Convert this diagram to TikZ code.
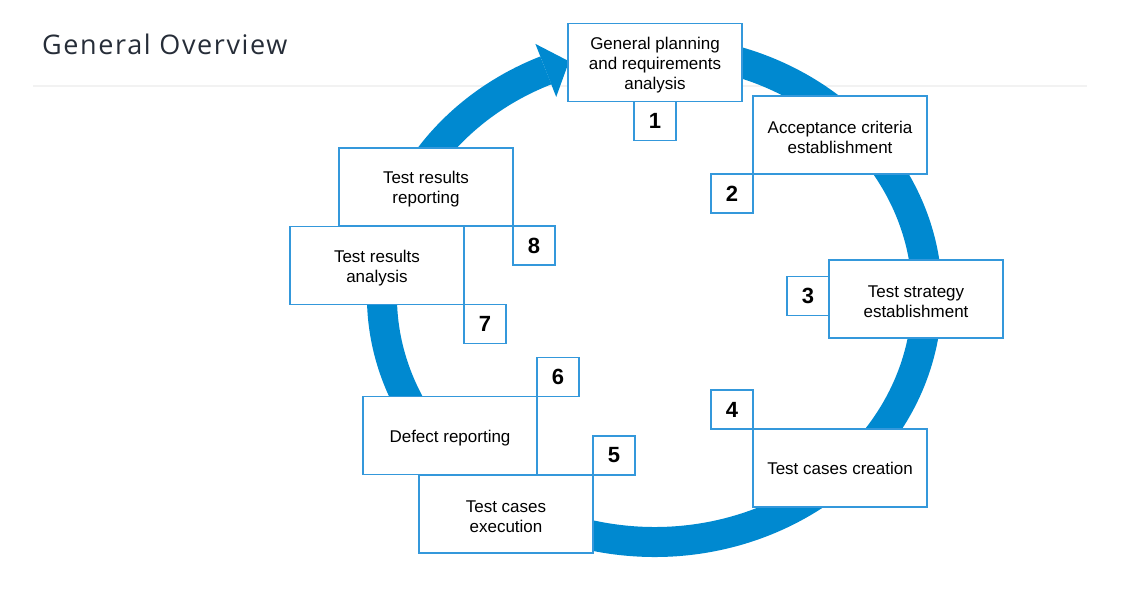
\documentclass[tikz,border=0pt]{standalone}
\usepackage{fontspec}
\setmainfont{Liberation Sans}
\newfontfamily\titlefont{Open Sans}[LetterSpace=6.0]
\usetikzlibrary{positioning}
\definecolor{ringblue}{RGB}{0,137,208}
\definecolor{boxblue}{RGB}{52,152,219}
\definecolor{titlegray}{RGB}{38,45,56}
\definecolor{rulegray}{RGB}{242,242,242}
\newcommand\topstrut{\rule{0pt}{17.4pt}}
\tikzset{
  stepbox/.style={draw=boxblue, line width=1.2pt, fill=white, minimum width=174pt,
    minimum height=78pt, inner sep=0pt, outer sep=0pt, align=center,
    font=\fontsize{17}{20}\selectfont},
  numbox/.style={draw=boxblue, line width=1.2pt, fill=white, minimum width=42pt,
    minimum height=39pt, inner sep=0pt, outer sep=0pt,
    font=\fontsize{22}{24}\selectfont\bfseries},
  ring/.style={draw=ringblue, line width=30pt}
}
\begin{document}
\begin{tikzpicture}[x=1pt,y=-1pt]
	\useasboundingbox (0,0) rectangle (1121,589);
	%=========== title and rule ===========================
	\node[anchor=base west, inner sep=0pt, text=titlegray,
	  font=\titlefont\fontsize{27}{30}\selectfont] (title) at (42,54) {General Overview};
	\draw[rulegray, line width=2pt] (33,86) -- (1087,86);
	%=========== ring, clockwise from under box 1 ===========================
	\coordinate (ringstart) at (701.8,53.7);
	\draw[ring] (ringstart) arc[start angle=280, end angle=606.5, x radius=272.5, y radius=246];
	\fill[ringblue] (535.4,43.9) -- (569.1,61.3) -- (556.2,96.9) -- cycle;
	%=========== steps, from top clockwise ===========================
	\node[stepbox] (s1) at (655,62.5) {\topstrut General planning\\and requirements\\analysis};
	\node[numbox, below=0pt of s1] (n1) {1};
	\node[stepbox] (s2) at (840,135) {\topstrut Acceptance criteria\\establishment};
	\node[numbox, below left=0pt and 0pt of s2.south west] (n2) {2};
	\node[stepbox] (s3) at (916,299) {\topstrut Test strategy\\establishment};
	\node[numbox, left=0pt of s3, yshift=3pt] (n3) {3};
	\node[stepbox] (s4) at (840,468) {Test cases creation};
	\node[numbox, above left=0pt and 0pt of s4.north west] (n4) {4};
	\node[stepbox] (s5) at (506,514) {\topstrut Test cases\\execution};
	\node[numbox, above right=0pt and 0pt of s5.north east] (n5) {5};
	\node[stepbox] (s6) at (450,435.5) {\topstrut Defect reporting};
	\node[numbox, above right=0pt and 0pt of s6.north east] (n6) {6};
	\node[stepbox] (s8) at (426,187) {\topstrut Test results\\reporting};
	\node[numbox, below right=0pt and 0pt of s8.south east] (n8) {8};
	\node[stepbox] (s7) at (377,265.5) {\topstrut Test results\\analysis};
	\node[numbox, below right=0pt and 0pt of s7.south east] (n7) {7};
\end{tikzpicture}
\end{document}
